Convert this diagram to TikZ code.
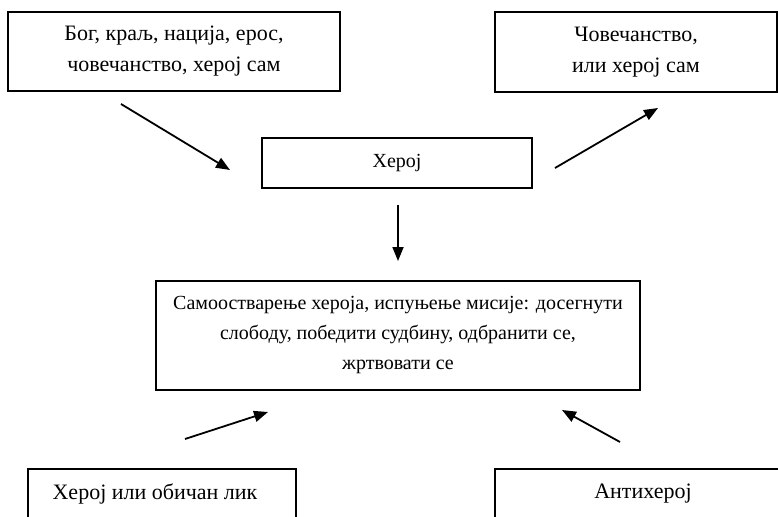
\documentclass[tikz,border=0pt]{standalone}
\usepackage{fontspec}
\setmainfont{Liberation Serif}
\usetikzlibrary{arrows.meta,positioning}

\begin{document}
\begin{tikzpicture}[x=1pt, y=-1pt,
	box/.style = {draw, line width=1.3pt, align=center, inner sep=0pt,
		font=\fontsize{22}{31}\selectfont},
	arr/.style = {-{Triangle[length=14pt,width=11pt]}, line width=1.8pt}]
	\useasboundingbox (0,0) rectangle (778,516);
	\clip (0,0) rectangle (778,516);
	% boxes
	\node[box, minimum width=332, minimum height=79] (bog) at (174,51.5) {Бог, краљ, нација, ерос,\\човечанство, херој сам};
	\node[box, minimum width=282, minimum height=80] (covek) at (636,52) {Човечанство,\\или херој сам};
	\node[box, minimum width=270, minimum height=50, font=\fontsize{20}{30}\selectfont] (heroj) at (397,163) {Херој};
	\node[box, minimum width=484, minimum height=109, font=\fontsize{20}{30}\selectfont] (misija) at (398,335.5) {Самоостварење хероја, испуњење мисије: досегнути\\слободу, победити судбину, одбранити се,\\жртвовати се};
	\node[box, minimum width=268, minimum height=50] (lik) at (162,494) {Херој или обичан лик\hspace*{14pt}};
	\node[box, minimum width=296, minimum height=50] (anti) at (643,494) {Антихерој};
	% arrows
	\coordinate (a1) at (121,104);
	\coordinate (b1) at (230,170);
	\coordinate (a2) at (555,168);
	\coordinate (b2) at (658,108);
	\coordinate (a3) at (398,205);
	\coordinate (b3) at (398,261);
	\coordinate (a4) at (185,439);
	\coordinate (b4) at (268,412);
	\coordinate (a5) at (620,442);
	\coordinate (b5) at (562,410);
	\draw[arr] (a1) -- (b1);
	\draw[arr] (a2) -- (b2);
	\draw[arr] (a3) -- (b3);
	\draw[arr] (a4) -- (b4);
	\draw[arr] (a5) -- (b5);
\end{tikzpicture}
\end{document}
